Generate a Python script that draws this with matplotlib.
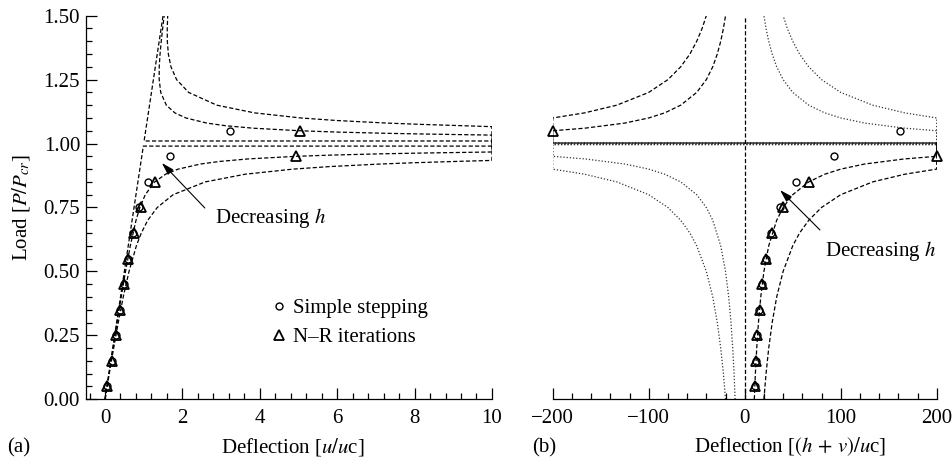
import matplotlib
matplotlib.use("Agg")
import matplotlib.pyplot as plt
from matplotlib.ticker import MultipleLocator, FormatStrFormatter

plt.rcParams['font.family'] = ['Liberation Serif', 'DejaVu Serif']
plt.rcParams['mathtext.fontset'] = 'stix'
plt.rcParams['font.size'] = 15
plt.rcParams['lines.scale_dashes'] = False

# ---------------- (a) load vs u/uc ----------------
# h = 20 (lower branch, jump at u = 10, upper branch)
a_h20_u = [0, 0.109, 0.223, 0.342, 0.471, 0.62, 0.81, 0.937, 1.104, 1.35, 1.76, 2.59,
           3.62, 4.86, 5.81, 7.13, 8.0, 9.05, 10,
           10, 9.19, 8.15, 7.29, 5.99, 5.06, 3.86, 2.89, 2.16, 1.85, 1.704, 1.637,
           1.61, 1.608, 1.62]
a_h20_p = [0, .1, .2, .3, .4, .5, .6, .65, .7, .75, .8, .85,
           .88, .9, .91, .92, .925, .93, .934,
           1.066, 1.07, 1.075, 1.08, 1.09, 1.1, 1.12, 1.15, 1.2, 1.25, 1.3, 1.35,
           1.4, 1.45, 1.5]
# h = 10
a_h10_u = [0, 0.102, 0.206, 0.310, 0.418, 0.530, 0.653, 0.801, 0.900, 1.040, 1.284,
           1.564, 1.890, 2.472, 2.961, 3.708, 4.940, 5.883, 7.200, 8.26, 10,
           10, 8.33, 7.28, 5.97, 5.04, 3.83, 3.10, 2.63, 2.09, 1.804, 1.584, 1.44,
           1.40, 1.401, 1.422, 1.453, 1.489, 1.53]
a_h10_p = [0, .1, .2, .3, .4, .5, .6, .7, .75, .8, .85,
           .88, .9, .92, .93, .94, .95, .955, .96, .963, .967,
           1.033, 1.037, 1.04, 1.045, 1.05, 1.06, 1.07, 1.08, 1.1, 1.12, 1.15, 1.2,
           1.25, 1.3, 1.35, 1.4, 1.45, 1.5]
# h -> 0
a_h0_u = [0, 0.99, 10, 10, 1.01, 1.5]
a_h0_p = [0, 0.99, 0.99, 1.01, 1.01, 1.5]

load_steps = [0.05, 0.15, 0.25, 0.35, 0.45, 0.55, 0.65, 0.75, 0.85, 0.95, 1.05]
a_nr_u = [0.06, 0.18, 0.28, 0.39, 0.49, 0.59, 0.74, 0.92, 1.30, 4.93, 5.03]
a_ss_u = [0.06, 0.18, 0.28, 0.39, 0.49, 0.59, 0.73, 0.89, 1.11, 1.68, 3.22]

# ---------------- (b) load vs (h+v)/uc ----------------
b_h10_dash_x = [10, 11.1, 12.5, 14.3, 16.7, 20, 25, 33.3, 40, 50, 66.7, 83.3, 100, 125,
                166.7, 200, 200, -200, -200, -166.7, -125, -100, -83.3, -66.7, -50,
                -40, -33.3, -28.6, -25, -22.2, -20]
b_h10_dash_p = [0, .1, .2, .3, .4, .5, .6, .7, .75, .8, .85, .88, .9, .92,
                .94, .95, 1.002, 1.002, 1.05, 1.06, 1.08, 1.1, 1.12, 1.15, 1.2,
                1.25, 1.3, 1.35, 1.4, 1.45, 1.5]
b_h20_dash_x = [20, 22.2, 25, 28.6, 33.3, 40, 50, 57.1, 66.7, 80, 100, 133.3, 166.7,
                200, 200, -200, -200, -166.7, -133.3, -100, -80, -66.7, -57.1, -50,
                -44.4, -40]
b_h20_dash_p = [0, .1, .2, .3, .4, .5, .6, .65, .7, .75, .8, .85, .88,
                .9, 1.002, 1.002, 1.1, 1.12, 1.15, 1.2, 1.25, 1.3, 1.35, 1.4,
                1.45, 1.5]
b_h10_dot_x = [-10, -11.1, -12.5, -14.3, -16.7, -20, -25, -33.3, -40, -50, -66.7, -83.3,
               -100, -125, -166.7, -200, -200, 200, 200, 166.7, 125, 100, 83.3, 66.7,
               50, 40, 33.3, 28.6, 25, 22.2, 20]
b_h10_dot_p = [0, .1, .2, .3, .4, .5, .6, .7, .75, .8, .85, .88,
               .9, .92, .94, .95, .996, .996, 1.05, 1.06, 1.08, 1.1, 1.12, 1.15,
               1.2, 1.25, 1.3, 1.35, 1.4, 1.45, 1.5]
b_h20_dot_x = [-20, -22.2, -25, -28.6, -33.3, -40, -50, -57.1, -66.7, -80, -100, -133.3,
               -166.7, -200, -200, 200, 200, 166.7, 133.3, 100, 80, 66.7, 57.1, 50,
               44.4, 40]
b_h20_dot_p = [0, .1, .2, .3, .4, .5, .6, .65, .7, .75, .8, .85,
               .88, .9, .996, .996, 1.1, 1.12, 1.15, 1.2, 1.25, 1.3, 1.35, 1.4,
               1.45, 1.5]
b_h0_x = [0, 0]
b_h0_p = [0, 1.5]

b_nr_x = [10.5, 11.8, 13.3, 15.4, 18.2, 22.2, 28.6, 40.0, 66.7, 200, -200]
b_ss_x = [10.5, 11.7, 13.2, 15.2, 17.9, 21.7, 27.6, 37, 53, 93, 162]

dash = dict(color='k', lw=0.9, dashes=(3, 1.6))
dot = dict(color='0.2', lw=0.9, dashes=(0.9, 1.4))
tri = dict(marker='^', ls='none', mfc='none', mec='k', ms=7.5, mew=1.3, zorder=4, clip_on=False)
circ = dict(marker='o', ls='none', mfc='none', mec='k', ms=5, mew=1.0, zorder=4, clip_on=False)

fig = plt.figure(figsize=(9.53, 4.57), dpi=100)
axa = fig.add_axes([0.0899, 0.1263, 0.4263, 0.8394])
axb = fig.add_axes([0.5800, 0.1263, 0.4029, 0.8394])

for ax in (axa, axb):
    ax.spines['top'].set_visible(False)
    ax.spines['right'].set_visible(False)
    for s in ax.spines.values():
        s.set_linewidth(0.9)
    ax.set_ylim(0, 1.5)
    ax.tick_params(which='major', direction='in', length=8, width=0.9)
    ax.tick_params(which='minor', direction='in', length=4.5, width=0.9)
    ax.tick_params(axis='x', pad=7)

# panel (a)
axa.plot(a_h20_u, a_h20_p, **dash)
axa.plot(a_h10_u, a_h10_p, **dash)
axa.plot(a_h0_u, a_h0_p, **dash)
axa.plot(a_ss_u, load_steps, label='Simple stepping', **circ)
axa.plot(a_nr_u, load_steps, label='N\u2013R iterations', **tri)
axa.set_xlim(-0.5, 10)
axa.xaxis.set_major_locator(MultipleLocator(2))
axa.xaxis.set_minor_locator(MultipleLocator(0.4))
axa.yaxis.set_major_locator(MultipleLocator(0.25))
axa.yaxis.set_minor_locator(MultipleLocator(0.05))
axa.yaxis.set_major_formatter(FormatStrFormatter('%.2f'))
axa.tick_params(axis='y', pad=4)
axa.set_ylabel(r'Load [$P/P_{cr}$]', labelpad=8)
axa.set_xlabel(r'Deflection [$u/u$c]')
axa.xaxis.set_label_coords(0.51, -0.139)
axa.xaxis.label.set_verticalalignment('baseline')
axa.legend(loc='upper left', bbox_to_anchor=(0.449, 0.262), frameon=False,
           borderpad=0, handlelength=1.0, handletextpad=0.2, labelspacing=0.45,
           borderaxespad=0)
axa.annotate('', xy=(1.47, 0.924), xytext=(2.58, 0.748),
             arrowprops=dict(arrowstyle='-|>,head_length=0.5,head_width=0.15',
                             color='k', lw=0.8, shrinkA=0, shrinkB=0))
axa.text(2.84, 0.69, r'Decreasing $h$', ha='left', va='baseline')

# panel (b)
axb.plot(b_h20_dot_x, b_h20_dot_p, **dot)
axb.plot(b_h10_dot_x, b_h10_dot_p, **dot)
axb.plot(b_h20_dash_x, b_h20_dash_p, **dash)
axb.plot(b_h10_dash_x, b_h10_dash_p, **dash)
axb.plot(b_h0_x, b_h0_p, **dash)
axb.plot(b_ss_x, load_steps, **circ)
axb.plot(b_nr_x, load_steps, **tri)
axb.set_xlim(-200, 200)
axb.spines['left'].set_visible(False)
axb.tick_params(axis='y', which='both', left=False, labelleft=False)
axb.xaxis.set_major_locator(MultipleLocator(100))
axb.xaxis.set_minor_locator(MultipleLocator(20))
axb.set_xlabel(r'Deflection [$(h\,+\,v)/u$c]')
axb.xaxis.set_label_coords(0.619, -0.139)
axb.xaxis.label.set_verticalalignment('baseline')
axb.annotate('', xy=(36.8, 0.818), xytext=(78.4, 0.662),
             arrowprops=dict(arrowstyle='-|>,head_length=0.5,head_width=0.15',
                             color='k', lw=0.8, shrinkA=0, shrinkB=0))
axb.text(83.6, 0.56, r'Decreasing $h$', ha='left', va='baseline')

fig.text(0.0073, 0.0094, '(a)', ha='left', va='baseline')
fig.text(0.558, 0.0094, '(b)', ha='left', va='baseline')

fig.savefig('out.png', dpi=100)
